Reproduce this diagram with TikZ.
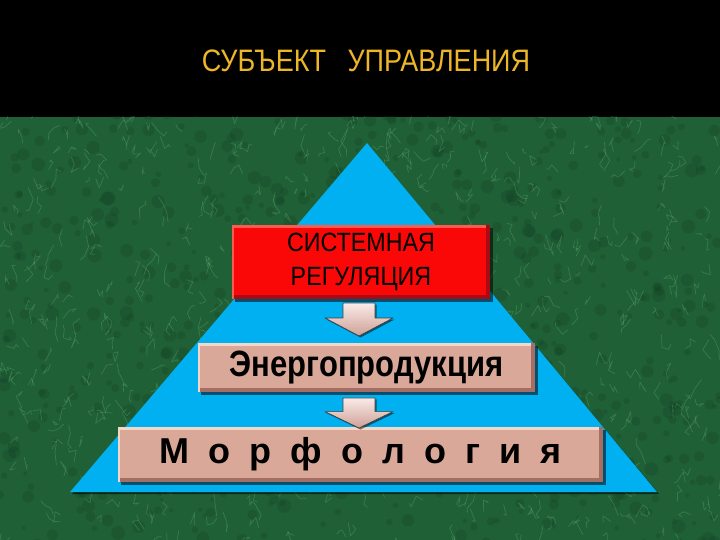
\documentclass[tikz,border=0pt]{standalone}
\usepackage{graphicx}
\usepackage{fontspec}
\setmainfont{Liberation Sans}
\usetikzlibrary{shadows}
\definecolor{titlecol}{RGB}{236,182,40}
\definecolor{greenbase}{RGB}{32,96,54}
\definecolor{greenlight}{RGB}{120,195,135}
\definecolor{greendark}{RGB}{14,58,32}
\definecolor{pyrblue}{RGB}{0,176,240}
\definecolor{boxred}{RGB}{250,8,8}
\definecolor{boxredlight}{RGB}{255,90,80}
\definecolor{boxreddark}{RGB}{170,10,20}
\definecolor{boxpink}{RGB}{218,168,152}
\definecolor{boxpinklight}{RGB}{245,215,200}
\definecolor{boxpinkdark}{RGB}{165,110,100}
\definecolor{arrowlight}{RGB}{250,235,232}
\definecolor{arrowdark}{RGB}{205,160,150}
\tikzset{
  bevelbox/.style n args={3}{
    fill=#1, inner sep=0pt, align=center,
    drop shadow={shadow xshift=3pt, shadow yshift=-3pt, opacity=0.55, fill=black},
    path picture={
      \fill[#2] (path picture bounding box.north west) rectangle ([yshift=-3pt]path picture bounding box.north east);
      \fill[#3] (path picture bounding box.south west) rectangle ([yshift=4pt]path picture bounding box.south east);
      \fill[#3] ([xshift=-4pt]path picture bounding box.north east) rectangle (path picture bounding box.south east);
      \fill[#2] (path picture bounding box.north west) rectangle ([xshift=2pt]path picture bounding box.south west);
    }},
  marble/.style={draw=greenlight, opacity=0.28, line width=0.7pt, line cap=round, line join=round},
  blockarrow/.pic={
    \path[top color=arrowlight, bottom color=arrowdark, draw=black!75, line width=0.7pt, line join=round,
      drop shadow={shadow xshift=1.5pt, shadow yshift=-1.5pt, opacity=0.5, fill=black}]
      (-16,-16.5) -- (16,-16.5) -- (16,-1.5) -- (34,-1.5) -- (0,16.5) -- (-34,-1.5) -- (-16,-1.5) -- cycle;
  }
}
\begin{document}
\begin{tikzpicture}[x=1pt,y=-1pt]
\useasboundingbox (0,0) rectangle (720,540);
% background
\fill[black] (0,0) rectangle (720,117);
\fill[greenbase] (0,117) rectangle (720,540);
\begin{scope}
\clip (0,117) rectangle (720,540);
\pgfmathsetseed{11}
\foreach \i in {1,...,700}{
  \pgfmathsetmacro\xa{rnd*720}
  \pgfmathsetmacro\ya{110+rnd*440}
  \pgfmathsetmacro\rr{2+rnd*5}
  \fill[greendark, opacity=0.22] (\xa,\ya) circle (\rr);
}
\foreach \i in {1,...,650}{
  \pgfmathsetmacro\xa{rnd*720}
  \pgfmathsetmacro\ya{110+rnd*440}
  \draw[marble] (\xa,\ya) -- ++({(rnd-0.5)*14},{(rnd-0.5)*26}) -- ++({(rnd-0.5)*14},{(rnd-0.5)*22}) -- ++({(rnd-0.5)*10},{(rnd-0.5)*16});
}
\end{scope}
% title
\node[text=titlecol, font=\fontsize{27}{30}\selectfont, yscale=1.15] (title) at (366,61) {СУБЪЕКТ\hspace{14pt} УПРАВЛЕНИЯ};
% pyramid
\fill[black, opacity=0.55] (367,145) -- (659,494) -- (72,494) -- cycle;
\fill[pyrblue] (367,143) coordinate (apex) -- (657,492) coordinate (br) -- (70,492) coordinate (bl) -- cycle;
% boxes
\node[bevelbox={boxred}{boxredlight}{boxreddark}, minimum width=258pt, minimum height=74pt,
  font=\fontsize{24}{33}\selectfont] (sys) at (361,262) {\scalebox{0.97}[1.1]{СИСТЕМНАЯ}\\[1pt]\scalebox{0.97}[1.1]{РЕГУЛЯЦИЯ}};
\node[bevelbox={boxpink}{boxpinklight}{boxpinkdark}, minimum width=337pt, minimum height=49pt,
  font=\bfseries\fontsize{31}{36}\selectfont] (energy) at (366.5,367.5) {\scalebox{1}[1.18]{Энергопродукция}};
\node[bevelbox={boxpink}{boxpinklight}{boxpinkdark}, minimum width=485pt, minimum height=55pt,
  font=\bfseries\fontsize{36}{40}\selectfont] (morph) at (360.5,454.5) {\spaceskip=19pt М о р ф о л о г и я};
% arrows
\pic (arr1) at (359,319.5) {blockarrow};
\pic[yscale=0.91] (arr2) at (359,413) {blockarrow};
\end{tikzpicture}
\end{document}
